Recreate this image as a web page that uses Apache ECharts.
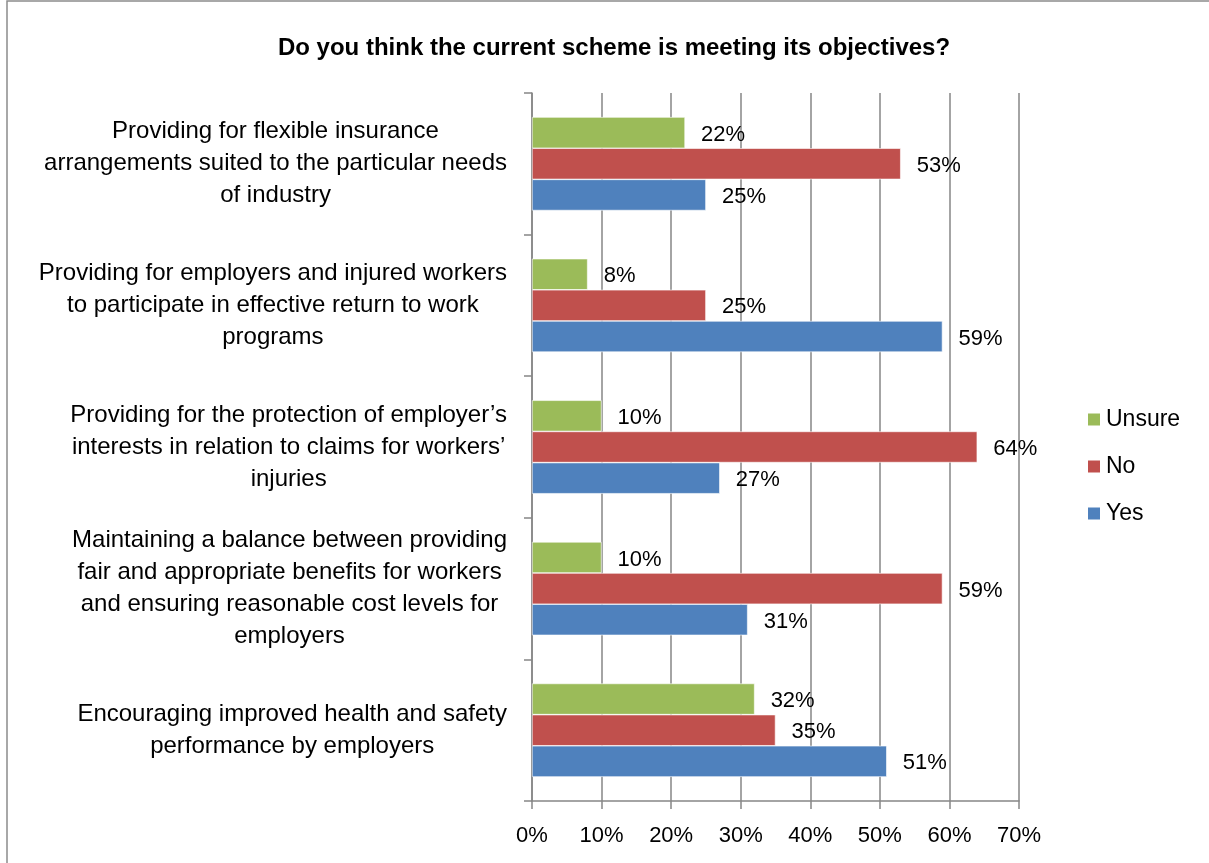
<!DOCTYPE html>
<html>
<head>
<meta charset="utf-8">
<style>
  html, body { margin: 0; padding: 0; background: #fff; }
  #chart { width: 1209px; height: 863px; }
</style>
<script src="https://cdn.jsdelivr.net/npm/echarts@6/dist/echarts.min.js"></script>
</head>
<body>
<div id="chart"></div>
<script>
// Survey answers, categories listed bottom to top
const categories = [
  'Encouraging improved health and safety\nperformance by employers',
  'Maintaining a balance between providing\nfair and appropriate benefits for workers\nand ensuring reasonable cost levels for\nemployers',
  'Providing for the protection of employer\u2019s\ninterests in relation to claims for workers\u2019\ninjuries',
  'Providing for employers and injured workers\nto participate in effective return to work\nprograms',
  'Providing for flexible insurance\narrangements suited to the particular needs\nof industry'
];
const unsure = [32, 10, 10, 8, 22];
const no = [35, 59, 64, 25, 53];
const yes = [51, 31, 27, 59, 25];
const xTicks = [0, 10, 20, 30, 40, 50, 60, 70];

const FONT = '"Liberation Sans", Arial, sans-serif';
const GRID = '#868686';

function barSeries(name, values, color) {
  return {
    name: name,
    type: 'bar',
    data: values,
    barGap: '0%',
    barCategoryGap: '34%',
    itemStyle: { color: color, borderColor: '#ffffff', borderWidth: 0.6 },
    label: {
      show: true,
      position: 'right',
      distance: 16,
      offset: [0, 2],
      formatter: '{c}%',
      color: '#000',
      fontFamily: FONT,
      fontSize: 22
    }
  };
}

const chart = echarts.init(document.getElementById('chart'));
chart.setOption({
  animation: false,
  backgroundColor: '#fff',
  title: {
    text: 'Do you think the current scheme is meeting its objectives?',
    left: 609,
    textAlign: 'center',
    top: 31,
    textStyle: { fontFamily: FONT, fontSize: 24, fontWeight: 'bold', color: '#000' }
  },
  graphic: [{
    type: 'rect',
    shape: { x: 7, y: 1, width: 1400, height: 1000 },
    style: { fill: 'none', stroke: '#8c8c8c', lineWidth: 1.5 },
    silent: true
  }],
  legend: {
    orient: 'vertical',
    left: 1081,
    top: 403,
    icon: 'rect',
    itemWidth: 14,
    itemHeight: 14,
    itemGap: 24,
    data: ['Unsure', 'No', 'Yes'],
    textStyle: { fontFamily: FONT, fontSize: 23, color: '#000' }
  },
  grid: { left: 532, right: 190, top: 93, bottom: 62, containLabel: false },
  xAxis: {
    type: 'value',
    min: xTicks[0],
    max: xTicks[xTicks.length - 1],
    interval: 10,
    axisLine: { show: true, lineStyle: { color: GRID, width: 1.5 } },
    axisTick: { show: true, length: 8, lineStyle: { color: GRID, width: 1.5 } },
    splitLine: { show: true, lineStyle: { color: GRID, width: 1.5 } },
    axisLabel: {
      margin: 24,
      formatter: '{value}%',
      fontFamily: FONT,
      fontSize: 22,
      color: '#000'
    }
  },
  yAxis: {
    type: 'category',
    data: categories,
    axisLine: { show: true, lineStyle: { color: GRID, width: 1.5 } },
    axisTick: { show: true, length: 8, lineStyle: { color: GRID, width: 1.5 } },
    splitLine: { show: false },
    axisLabel: {
      margin: 25,
      formatter: function (v) { return '{c|' + v + '}'; },
      rich: {
        c: {
          align: 'center',
          fontFamily: FONT,
          fontSize: 24,
          lineHeight: 32,
          color: '#000'
        }
      }
    }
  },
  series: [
    barSeries('Unsure', unsure, '#9BBB59'),
    barSeries('No', no, '#C0504D'),
    barSeries('Yes', yes, '#4F81BD')
  ]
});
</script>
</body>
</html>
